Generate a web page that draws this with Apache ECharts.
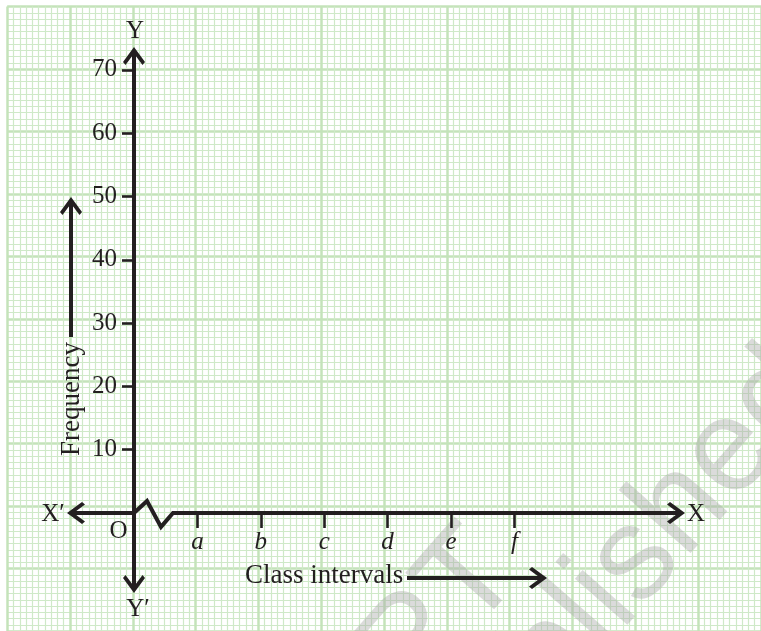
<!DOCTYPE html>
<html>
<head>
<meta charset="utf-8">
<title>Frequency / Class intervals</title>
<script src="https://cdn.jsdelivr.net/npm/echarts@6/dist/echarts.min.js"></script>
<style>
  html, body { margin: 0; padding: 0; background: #fff; }
  #main { width: 761px; height: 631px; }
</style>
</head>
<body>
<div id="main"></div>
<script>
'use strict';

// chart data
const classLabels = ['a', 'b', 'c', 'd', 'e', 'f'];
const classTicks = [1, 2, 3, 4, 5, 6];
const freqTicks = [10, 20, 30, 40, 50, 60, 70];
// kink drawn on the x axis next to the origin (class units / frequency units)
const kinkX = [0, 0.205, 0.426, 0.615];
const kinkY = [0, 1.9, -2.2, 0];

const W = 761, H = 631;
const OX = 134, OY = 513;    // origin on screen
const UX = 63.4;             // px per class step
const UY = 6.33;             // px per frequency unit
const INK = '#231f20';
const SERIF = '"Liberation Serif", "DejaVu Serif", serif';
const SANS = '"Liberation Sans", Arial, sans-serif';
const PAPER_MAJOR = '#c4e3ba';
const PAPER_MINOR = '#cfe9c8';
const WATERMARK = 'rgba(170,170,170,0.42)';
// open arrow head pointing up, with a short stem so it joins the line
const HEAD_UP = [[11, 0], [22, 15], [19.5, 18], [12.8, 8.9], [12.8, 18], [9.2, 18], [9.2, 8.9], [2.5, 18], [0, 15]];
const HEAD_RIGHT = HEAD_UP.map(p => [18 - p[1], p[0]]);
const ARROW_UP = 'path://M' + HEAD_UP.map(p => p.join(',')).join(' L') + ' Z';

// extent of the drawn axes (line ends = arrow centres)
const axLeft = 76, axRight = 676, axTop = 56, axBottom = 584;
const xMin = (axLeft - OX) / UX, xMax = (axRight - OX) / UX;
const yMin = (OY - axBottom) / UY, yMax = (OY - axTop) / UY;

const xTrack = [[xMin, 0]];
kinkX.forEach((x, i) => xTrack.push([x, kinkY[i]]));
xTrack.push([xMax, 0]);

function txt(text, x, y, size, extra) {
  return Object.assign({
    type: 'text', x: x, y: y, z: 10,
    style: { text: text, font: size + 'px ' + SERIF, fill: INK, align: 'center', verticalAlign: 'middle' }
  }, extra || {});
}

function head(pts, x, y) {
  return { type: 'polygon', z: 10, shape: { points: pts.map(p => [p[0] + x, p[1] + y]) }, style: { fill: INK } };
}

const paperX = {
  gridIndex: 0, type: 'value', min: -2, max: 10, interval: 1, z: -1,
  axisLine: { show: false }, axisTick: { show: false }, axisLabel: { show: false },
  splitLine: { show: true, lineStyle: { color: PAPER_MAJOR, width: 2.5 } },
  minorTick: { show: false, splitNumber: 10 },
  minorSplitLine: { show: true, lineStyle: { color: PAPER_MINOR, width: 1.2 } }
};
const paperY = Object.assign({}, paperX, { min: -20, max: 80, interval: 10 });
const hidden = { show: false, type: 'value', splitLine: { show: false } };

const chart = echarts.init(document.getElementById('main'));
const option = {
  animation: false,
  backgroundColor: '#fff',
  grid: [
    // graph paper
    { left: OX - 2 * UX, right: W - (OX + 10 * UX), top: OY - 80 * UY, bottom: H - (OY + 20 * UY), containLabel: false },
    // frequency axis (left edge = origin)
    { left: OX, right: W - axRight, top: axTop, bottom: H - axBottom, containLabel: false },
    // class axis (bottom edge = origin)
    { left: axLeft, right: W - axRight, top: axTop, bottom: H - OY, containLabel: false }
  ],
  xAxis: [
    paperX,
    Object.assign({}, hidden, { gridIndex: 1, min: 0, max: xMax }),
    {
      gridIndex: 2, type: 'value', min: xMin, max: xMax, z: 3,
      axisLine: { show: false, onZero: false },
      axisTick: { show: true, customValues: classTicks, length: 15, lineStyle: { color: INK, width: 2.6 } },
      axisLabel: {
        customValues: classTicks, margin: 17,
        formatter: v => classLabels[classTicks.indexOf(v)],
        fontFamily: SERIF, fontStyle: 'italic', fontSize: 25, color: INK
      },
      splitLine: { show: false }
    }
  ],
  yAxis: [
    paperY,
    {
      gridIndex: 1, type: 'value', min: yMin, max: yMax, z: 3,
      axisLine: {
        show: true, onZero: false,
        symbol: [ARROW_UP, ARROW_UP], symbolSize: [22, 18],
        lineStyle: { color: INK, width: 4 }
      },
      axisTick: { show: true, customValues: freqTicks, length: 12, lineStyle: { color: INK, width: 2.6 } },
      axisLabel: { customValues: freqTicks, margin: 17, fontFamily: SERIF, fontSize: 25, color: INK },
      splitLine: { show: false }
    },
    Object.assign({}, hidden, { gridIndex: 2, min: 0, max: yMax })
  ],
  series: [
    {
      type: 'line', xAxisIndex: 2, yAxisIndex: 2, data: xTrack,
      symbol: 'none', silent: true, clip: false, z: 4,
      lineStyle: { color: INK, width: 4, join: 'miter' }
    },
    {
      type: 'scatter', xAxisIndex: 2, yAxisIndex: 2, silent: true, clip: false, z: 5,
      symbol: ARROW_UP, symbolSize: [22, 18],
      itemStyle: { color: INK, opacity: 1 },
      data: [
        { value: [xMin, 0], symbolRotate: 90 },
        { value: [xMax, 0], symbolRotate: -90 }
      ]
    }
  ],
  graphic: [
    // faint watermark
    {
      type: 'text', x: 547, y: 594, rotation: 0.85, z: 0, silent: true,
      style: { text: '\u00a9 NCERT', font: '132px ' + SANS, fill: WATERMARK, align: 'right', verticalAlign: 'bottom' }
    },
    {
      type: 'text', x: 852, y: 414, rotation: 0.85, z: 0, silent: true,
      style: { text: 'not to be republished', font: '132px ' + SANS, fill: WATERMARK, align: 'right', verticalAlign: 'bottom' }
    },
    txt('Y', 135, 31.5, 25),
    txt('X\u2032', 53, 514, 25),
    txt('O', 118.5, 531.5, 25),
    txt('Y\u2032', 138, 609, 25),
    txt('X', 696, 514, 25),
    txt('Frequency', 71.5, 399, 27, { rotation: Math.PI / 2 }),
    txt('Class intervals', 245, 576, 27, { style: { text: 'Class intervals', font: '27px ' + SERIF, fill: INK, align: 'left', verticalAlign: 'middle' } }),
    // frequency arrow
    { type: 'line', z: 10, shape: { x1: 71, y1: 206, x2: 71, y2: 337 }, style: { stroke: INK, lineWidth: 4 } },
    head(HEAD_UP, 60, 197),
    // class intervals arrow
    { type: 'line', z: 10, shape: { x1: 407, y1: 578, x2: 538, y2: 578 }, style: { stroke: INK, lineWidth: 4 } },
    head(HEAD_RIGHT, 529, 567)
  ]
};
chart.setOption(option);
</script>
</body>
</html>
